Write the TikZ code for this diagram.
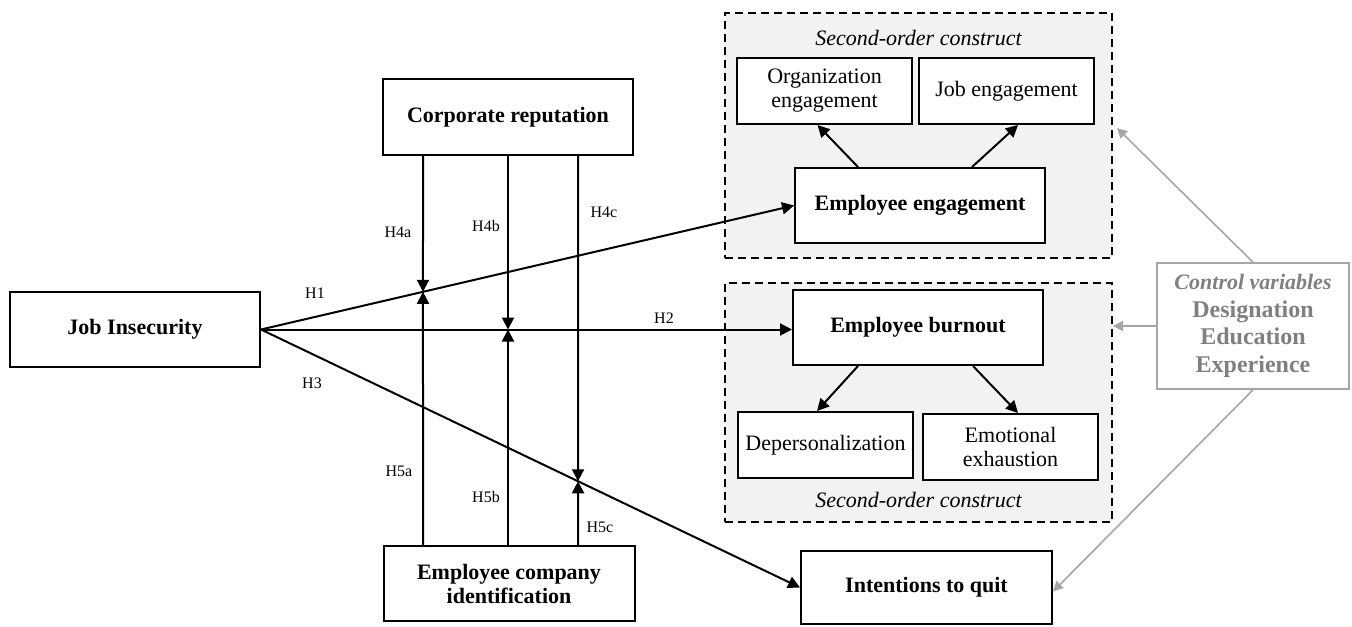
\documentclass[tikz,border=0pt]{standalone}
\usepackage{fontspec}
\setmainfont{Liberation Serif}
\usetikzlibrary{arrows.meta,calc}
\begin{document}
\begin{tikzpicture}[x=0.5pt,y=-0.5pt,
  box/.style={draw, line width=1pt, fill=white, inner sep=1pt, align=center, font=\fontsize{11}{12}\selectfont},
  bbox/.style={box, font=\fontsize{11}{12}\selectfont\bfseries},
  dashbox/.style={draw, line width=0.9pt, dash pattern=on 4pt off 2.5pt, fill=gray!10, inner sep=0},
  arr/.style={line width=1pt, -{Triangle[length=6pt,width=6pt]}},
  garr/.style={draw=gray!70, line width=0.8pt, -{Triangle[length=5pt,width=5pt]}},
  hl/.style={font=\fontsize{8}{9}\selectfont, inner sep=0},
  sotext/.style={font=\fontsize{11}{12}\selectfont\itshape, inner sep=0}
]
\useasboundingbox (0,0) rectangle (1352,626);

% dashed second-order boxes
\node[dashbox, minimum width=193.5pt, minimum height=122.5pt] (D1) at (918.5,135.5) {};
\node[dashbox, minimum width=193.5pt, minimum height=119.5pt] (D2) at (918.5,402.5) {};
\node[sotext] (S1) at (918.5,38) {Second-order construct};
\node[sotext] (S2) at (918.5,500) {Second-order construct};

% main boxes
\node[bbox, minimum width=125pt, minimum height=37.5pt] (JI) at (135,329.5) {Job Insecurity};
\node[bbox, minimum width=125pt, minimum height=38pt] (CR) at (508,117) {Corporate reputation};
\node[bbox, minimum width=125.5pt, minimum height=37.5pt] (ECI) at (509,583.5) {Employee company\\identification};
\node[bbox, minimum width=125.5pt, minimum height=36.5pt] (ITQ) at (926.5,587.5) {Intentions to quit};
\node[box, minimum width=87.5pt, minimum height=33pt] (OE) at (824.5,91) {Organization\\engagement};
\node[box, minimum width=87.5pt, minimum height=33pt] (JE) at (1006.5,91) {Job engagement};
\node[bbox, minimum width=125pt, minimum height=37.5pt] (EE) at (920,205.5) {Employee engagement};
\node[bbox, minimum width=125pt, minimum height=37.5pt] (EB) at (918,327.5) {Employee burnout};
\node[box, minimum width=87.5pt, minimum height=33pt] (DP) at (825.5,445) {Depersonalization};
\node[box, minimum width=87.5pt, minimum height=33pt] (EX) at (1010.5,447) {Emotional\\exhaustion};
\node[draw=gray!70, line width=0.8pt, fill=white, text=gray, align=center, inner sep=0,
      minimum width=96pt, minimum height=63pt, font=\fontsize{12}{13.75}\selectfont\bfseries] (CV) at (1253,326)
      {{\itshape\fontsize{11}{13.75}\selectfont Control variables}\\Designation\\Education\\Experience};

% second-order arrows
\draw[arr] ($(EE.north)+(-62,0)$) -- ($(OE.south)+(-7,0)$);
\draw[arr] ($(EE.north)+(52,0)$) -- ($(JE.south)+(11.5,0)$);
\draw[arr] ($(EB.south)+(-60,0)$) -- ($(DP.north)+(-8.5,0)$);
\draw[arr] ($(EB.south)+(55,0)$) -- ($(EX.north)+(7.5,0)$);

% direct paths
\draw[arr] (JI.east) -- (EE.west);
\draw[arr] (JI.east) -- (JI.east -| EB.west);
\draw[arr] (JI.east) -- (ITQ.west);

% moderators
\coordinate (xa) at (423,0); \coordinate (ya) at (423,600);
\coordinate (xb) at (508,0);
\coordinate (xc) at (578,0); \coordinate (yc) at (578,600);
\coordinate (m1) at (intersection of JI.east--EE.west and xa--ya);
\coordinate (m2) at (xb |- JI.east);
\coordinate (m3) at (intersection of JI.east--ITQ.west and xc--yc);
\draw[arr] (xa |- CR.south) -- (m1);
\draw[arr] (xa |- ECI.north) -- (m1);
\draw[arr] (xb |- CR.south) -- (m2);
\draw[arr] (xb |- ECI.north) -- (m2);
\draw[arr] (xc |- CR.south) -- (m3);
\draw[arr] (xc |- ECI.north) -- (m3);

% control variable arrows
\coordinate (g1) at (1117,128);
\draw[garr] (CV.north) -- (g1);
\draw[garr] (CV.west) -- (CV.west -| D2.east);
\draw[garr] (CV.south) -- ($(ITQ.east)+(0,4)$);

% hypothesis labels
\node[hl] (h1) at (315,293) {H1};
\node[hl] (h2) at (664,318) {H2};
\node[hl] (h3) at (312,383) {H3};
\node[hl] (h4a) at (398,232) {H4a};
\node[hl] (h4b) at (486,226) {H4b};
\node[hl] (h4c) at (604,212) {H4c};
\node[hl] (h5a) at (399,471) {H5a};
\node[hl] (h5b) at (486,497) {H5b};
\node[hl] (h5c) at (600,527) {H5c};
\end{tikzpicture}
\end{document}
